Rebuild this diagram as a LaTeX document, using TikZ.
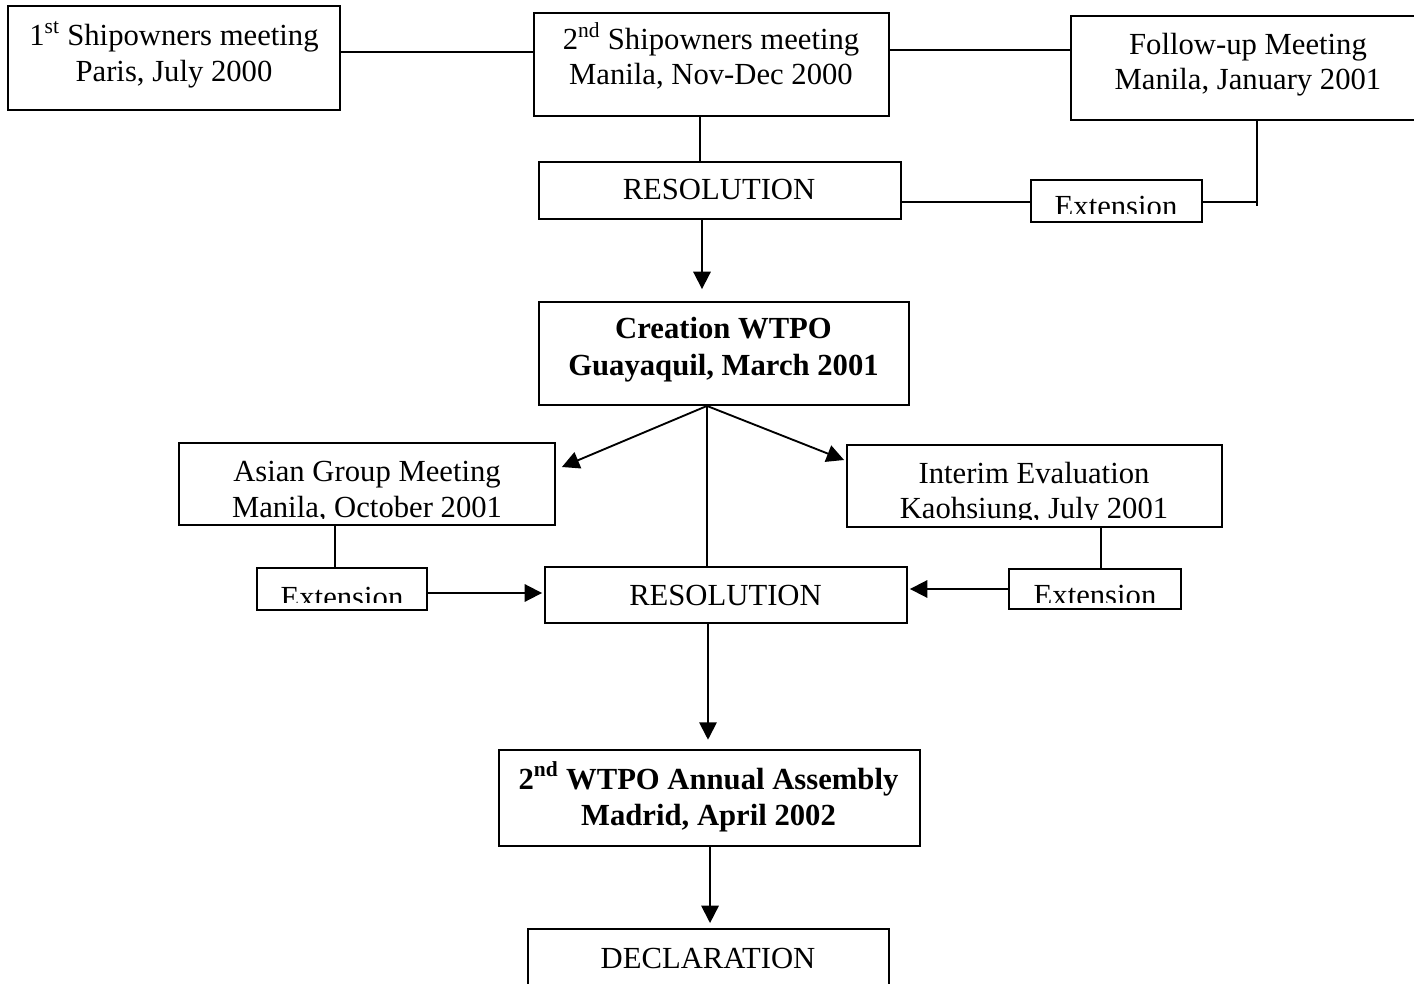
\documentclass[tikz,border=0pt]{standalone}
\usepackage{fontspec}
\setmainfont{Liberation Serif}
\usetikzlibrary{arrows.meta,fit}
\begin{document}
\begin{tikzpicture}[x=0.75pt,y=-0.75pt,
  box/.style={draw, line width=1.4pt, inner sep=0pt},
  txt/.style={anchor=base, inner sep=0pt, font=\fontsize{23}{27}\selectfont},
  btxt/.style={anchor=base, inner sep=0pt, font=\fontsize{23}{27}\selectfont\bfseries},
  conn/.style={line width=1.4pt},
  arr/.style={line width=1.4pt, -{Triangle[length=13pt,width=13pt]}}]
\useasboundingbox (0,0) rectangle (1414,984);
\fill[white] (0,0) rectangle (1414,984);

% boxes
\node[box, fit={(8,6) (340,110)}] (b1) {};
\node[box, fit={(534,13) (889,116)}] (b2) {};
\node[box, fit={(1071,16) (1420,120)}] (b3) {};
\node[box, fit={(539,162) (901,219)}] (r1) {};
\node[box, fit={(1031,180) (1202,222)}] (e1) {};
\node[box, fit={(539,302) (909,405)}] (cr) {};
\node[box, fit={(179,443) (555,525)}] (as) {};
\node[box, fit={(847,445) (1222,527)}] (ie) {};
\node[box, fit={(257,568) (427,610)}] (e2) {};
\node[box, fit={(545,567) (907,623)}] (r2) {};
\node[box, fit={(1009,569) (1181,609)}] (e3) {};
\node[box, fit={(499,750) (920,846)}] (as2) {};
\node[box, fit={(528,929) (889,1000)}] (de) {};

% texts
\node[txt] (b1a) at (174,46) {1\textsuperscript{st} Shipowners meeting};
\node[txt] (b1b) at (174,82) {Paris, July 2000};
\node[txt] (b2a) at (711,50) {2\textsuperscript{nd} Shipowners meeting};
\node[txt] (b2b) at (711,85) {Manila, Nov-Dec 2000};
\node[txt] (b3a) at (1248,55) {Follow-up Meeting};
\node[txt] (b3b) at (1248,90) {Manila, January 2001};
\node[txt] (r1a) at (719,200) {RESOLUTION};
\begin{scope}
\clip (1031,180) rectangle (1202,214);
\node[txt] (e1a) at (1116,217) {Extension};
\end{scope}
\node[btxt] (cra) at (723.5,339) {Creation WTPO};
\node[btxt] (crb) at (723.5,375) {Guayaquil, March 2001};
\begin{scope}
\clip (179,443) rectangle (555,518);
\node[txt] (asa) at (367,481) {Asian Group Meeting};
\node[txt] (asb) at (367,517) {Manila, October 2001};
\end{scope}
\begin{scope}
\clip (847,445) rectangle (1222,519.5);
\node[txt] (iea) at (1034,483) {Interim Evaluation};
\node[txt] (ieb) at (1034,518) {Kaohsiung, July 2001};
\end{scope}
\begin{scope}
\clip (257,568) rectangle (427,602);
\node[txt] (e2a) at (342,607) {Extension};
\end{scope}
\node[txt] (r2a) at (725.5,605) {RESOLUTION};
\begin{scope}
\clip (1009,569) rectangle (1181,602);
\node[txt] (e3a) at (1095,605) {Extension};
\end{scope}
\node[btxt] (as2a) at (708.5,789) {2\textsuperscript{nd} WTPO Annual Assembly};
\node[btxt] (as2b) at (708.5,825) {Madrid, April 2002};
\node[txt] (dea) at (708,968) {DECLARATION};

% connectors
\coordinate (c1) at ([yshift=4.5pt]b1.east);
\draw[conn] (c1) -- (c1 -| b2.west);
\coordinate (c2) at ([yshift=10.875pt]b2.east);
\draw[conn] (c2) -- (c2 -| b3.west);
\coordinate (c3) at ([xshift=-8.625pt]b2.south);
\draw[conn] (c3) -- (c3 |- r1.north);
\coordinate (c4) at ([yshift=-8.625pt]r1.east);
\draw[conn] (c4) -- (c4 -| e1.west);
\coordinate (k1) at (1257,206);
\draw[conn] (c4 -| e1.east) -- (c4 -| k1);
\draw[conn] (k1) -- (k1 |- b3.south);
\coordinate (c6) at ([xshift=-13.5pt]r1.south);
\draw[arr, shorten >=9pt] (c6) -- (c6 |- cr.north);
\coordinate (c7) at ([xshift=-12.75pt]cr.south);
\coordinate (ak) at ([xshift=4.5pt,yshift=12.75pt]as.east);
\coordinate (ik) at ([xshift=-1.5pt,yshift=19.5pt]ie.west);
\draw[arr] (c7) -- (ak);
\draw[arr] (c7) -- (ik);
\draw[conn] (c7) -- (c7 |- r2.north);
\coordinate (c8) at ([xshift=-24pt]as.south);
\draw[conn] (c8) -- (c8 |- e2.north);
\coordinate (c9) at ([yshift=-3pt]e2.east);
\draw[arr, shorten >=1.5pt] (c9) -- (c9 -| r2.west);
\coordinate (c10) at ([xshift=49.875pt]ie.south);
\draw[conn] (c10) -- (c10 |- e3.north);
\draw[arr, shorten >=1.5pt] (e3.west) -- (e3.west -| r2.east);
\coordinate (c11) at ([xshift=-13.5pt]r2.south);
\draw[arr, shorten >=7pt] (c11) -- (c11 |- as2.north);
\draw[arr, shorten >=3.75pt] ([xshift=0.4pt]as2.south) -- ([xshift=0.4pt]as2.south |- de.north);
\end{tikzpicture}
\end{document}
